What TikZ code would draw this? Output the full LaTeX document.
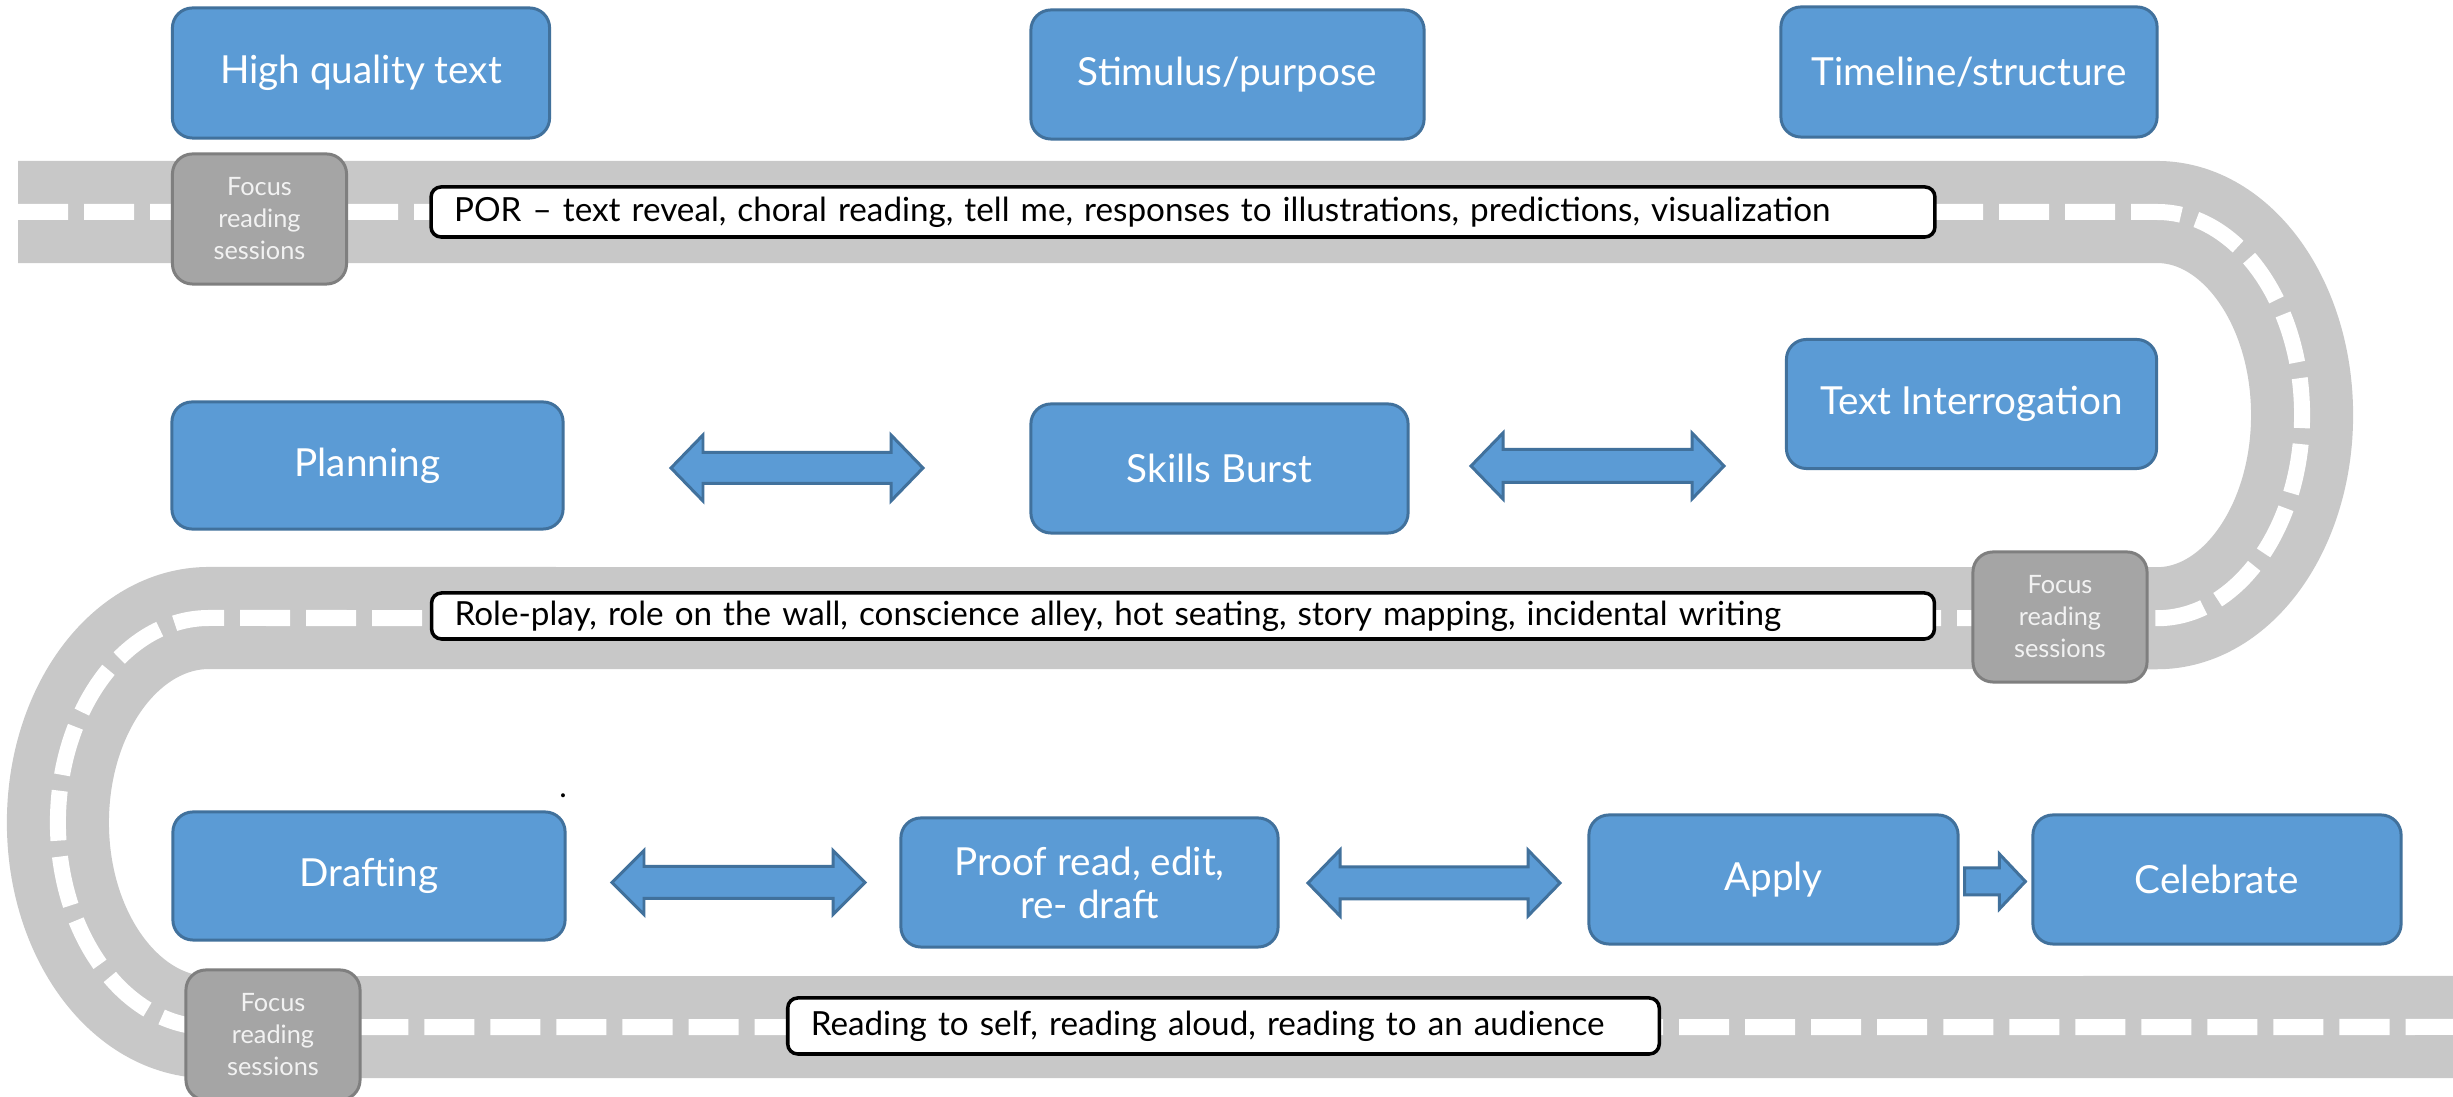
\documentclass[tikz,border=0pt]{standalone}
\usepackage{fontspec}
\setmainfont{Lato}
\usetikzlibrary{calc}
\definecolor{boxblue}{HTML}{5B9BD5}
\definecolor{boxedge}{HTML}{41719C}
\definecolor{roadgray}{HTML}{C8C8C8}
\definecolor{focusfill}{HTML}{A5A5A5}
\definecolor{focusedge}{HTML}{7F7F7F}
\definecolor{focustext}{HTML}{F2F2F2}
\tikzset{
  bluebox/.style={draw=boxedge, fill=boxblue, line width=0.85pt, rounded corners=0.2cm,
    text=white, align=center, font=\fontsize{11}{12.2}\selectfont, inner sep=0pt},
  focusbox/.style={draw=focusedge, fill=focusfill, line width=0.85pt, rounded corners=0.2cm,
    text=focustext, align=center, font=\fontsize{7.2}{9.1}\selectfont,
    minimum width=1.74cm, minimum height=1.3cm, inner sep=0pt},
  notebox/.style={draw=black, fill=white, line width=1pt, rounded corners=0.1cm,
    align=left, font=\fontsize{9.45}{10.5}\selectfont, inner xsep=0.23cm, inner ysep=0pt},
  blockarrow/.style={draw=boxedge, fill=boxblue, line width=0.85pt, line join=miter},
  road/.style={draw=roadgray, line width=1.02cm},
  roadline/.style={draw=white, line width=0.16cm, dash pattern=on 0.5cm off 0.16cm},
}
\newcommand\blockdbl[6]{%
  \coordinate (#1) at (#2,#3);
  \draw[blockarrow, shift={(#2,#3)}] (-#4,0) -- (-#4+32,#5) -- (-#4+32,#6) -- (#4-32,#6)
    -- (#4-32,#5) -- (#4,0) -- (#4-32,-#5) -- (#4-32,-#6) -- (-#4+32,-#6) -- (-#4+32,-#5) -- cycle;
}
\newcommand\roadpath{(18,885) -- (2157,885)
  arc[start angle=90, end angle=-90, x radius=1.45cm, y radius=2.03cm]
  -- (209,479)
  arc[start angle=90, end angle=270, x radius=1.51cm, y radius=2.045cm]
  -- (2453,70)}
\begin{document}
\begin{tikzpicture}[x=0.01cm,y=0.01cm]
\useasboundingbox[fill=white] (0,0) rectangle (2453,1097);
% road
\draw[road] \roadpath;
\draw[roadline] \roadpath;
% top row
\node[bluebox, minimum width=3.77cm, minimum height=1.30cm] (hqt) at (361,1024) {High quality text};
\node[bluebox, minimum width=3.93cm, minimum height=1.29cm] (stim) at (1227.5,1022.5) {Stimulus/purpose};
\node[bluebox, minimum width=3.76cm, minimum height=1.30cm] (time) at (1969,1025) {Timeline/structure};
\node[focusbox] (f1) at (259.5,878) {Focus\\reading\\sessions};
\node[notebox, text width=14.57cm, minimum height=0.50cm] (por) at (1183,885)
  {POR – text reveal, choral reading, tell me, responses to illustrations, predictions, visualization};
% middle row
\node[bluebox, minimum width=3.91cm, minimum height=1.27cm] (plan) at (367.5,631.5) {Planning};
\node[bluebox, minimum width=3.77cm, minimum height=1.29cm] (skills) at (1219.5,628.5) {Skills Burst};
\node[bluebox, minimum width=3.70cm, minimum height=1.29cm] (textint) at (1971.5,693) {Text Interrogation};
\blockdbl{a1}{797}{629}{126}{33}{15.5}
\blockdbl{a2}{1597.5}{631}{126.5}{33}{16.5}
\node[notebox, text width=14.56cm, minimum height=0.46cm] (role) at (1183,481)
  {Role-play, role on the wall, conscience alley, hot seating, story mapping, incidental writing};
\node[focusbox] (f2) at (2060,480) {Focus\\reading\\sessions};
% bottom row
\node[anchor=base, font=\fontsize{9}{9}\selectfont, inner sep=0pt] (dot) at (563,299) {.};
\node[bluebox, minimum width=3.92cm, minimum height=1.28cm] (draft) at (369,221) {Drafting};
\node[bluebox, minimum width=3.77cm, minimum height=1.29cm] (proof) at (1089.5,214.5) {Proof read, edit,\\re- draft};
\node[bluebox, minimum width=3.69cm, minimum height=1.29cm] (apply) at (1773.5,217.5) {Apply};
\node[bluebox, minimum width=3.68cm, minimum height=1.29cm] (celeb) at (2217,217.5) {Celebrate};
\blockdbl{a3}{738.5}{214.5}{126.5}{32}{16}
\blockdbl{a4}{1434}{214}{126}{33}{16}
\draw[blockarrow] ($(apply.east)+(5,11.5)$) -- ($(celeb.west)+(-32,11.5)$) -- ($(celeb.west)+(-32,25.5)$)
  -- ($(celeb.west)+(-6,-2)$) -- ($(celeb.west)+(-32,-29.5)$) -- ($(celeb.west)+(-32,-15.5)$)
  -- ($(apply.east)+(5,-15.5)$) -- cycle;
\node[notebox, text width=8.25cm, minimum height=0.56cm] (read) at (1223.5,71)
  {Reading to self, reading aloud, reading to an audience};
\node[focusbox] (f3) at (273,62) {Focus\\reading\\sessions};
\end{tikzpicture}
\end{document}
